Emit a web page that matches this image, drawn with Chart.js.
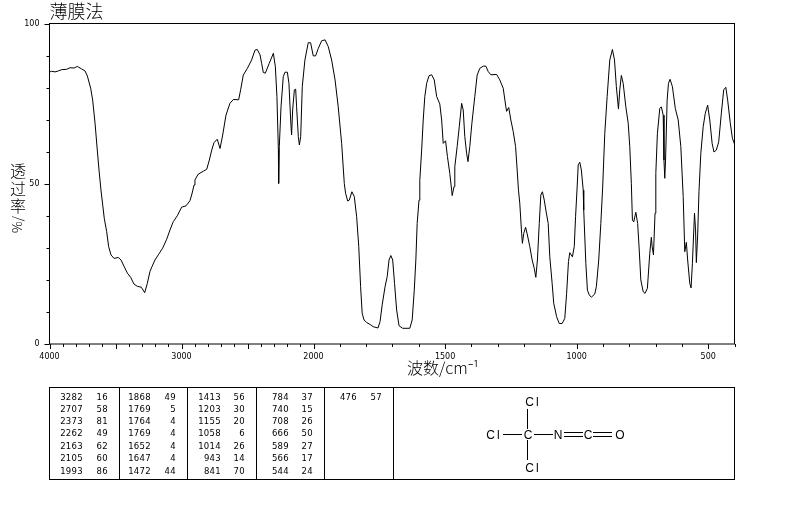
<!DOCTYPE html>
<html>
<head>
<meta charset="utf-8">
<title>薄膜法</title>
<script src="https://cdn.jsdelivr.net/npm/chart.js@4/dist/chart.umd.js"></script>
<style>
    html, body { margin: 0; padding: 0; background: #fff; }
    #wrap { position: relative; width: 794px; height: 510px; overflow: hidden; font-family: "DejaVu Sans", sans-serif; color: #000; }
    #irChart { position: absolute; left: 0; top: 0; }
    .cjk { position: absolute; font-family: "Noto Sans CJK SC", sans-serif; font-weight: 300; line-height: 1; white-space: nowrap; }
    #peakBox { position: absolute; left: 49px; top: 387px; width: 684px; height: 91px; border: 1px solid #000; }
    .rule { position: absolute; top: 0; width: 1px; height: 91px; background: #000; }
    .num { position: absolute; font-size: 8.5px; line-height: 12px; text-align: right; width: 30px; letter-spacing: 0.3px; }
    #mol { position: absolute; left: 394px; top: 388px; }
    #mol text { font-family: "Liberation Sans", sans-serif; font-size: 12px; text-anchor: middle; letter-spacing: 2px; }
</style>
</head>
<body>
<div id="wrap">
    <canvas id="irChart" width="794" height="510"></canvas>
    <div class="cjk" style="left:10px;top:162px;font-size:16px;width:16px;line-height:17.5px;">透<br>过<br>率</div>
    <div class="cjk" style="left:10px;top:233px;font-size:13px;transform-origin:0 0;transform:rotate(-90deg);">%/</div>
    <div class="cjk" style="left:407px;top:359px;font-size:16px;">波数/cm⁻¹</div>
    <div id="peakBox"></div>
    <svg id="mol" width="339" height="90" stroke="#000" fill="#000">
        <g stroke-width="1">
            <line x1="133.5" y1="21" x2="133.5" y2="41"/>
            <line x1="133.5" y1="52" x2="133.5" y2="72"/>
            <line x1="109" y1="46.5" x2="128" y2="46.5"/>
            <line x1="140" y1="46.5" x2="159" y2="46.5"/>
            <line x1="170" y1="44.5" x2="189" y2="44.5"/>
            <line x1="170" y1="48.5" x2="189" y2="48.5"/>
            <line x1="199" y1="44.5" x2="218" y2="44.5"/>
            <line x1="199" y1="48.5" x2="218" y2="48.5"/>
        </g>
        <g stroke="none">
            <text x="139" y="18">Cl</text>
            <text x="100" y="51">Cl</text>
            <text x="135" y="51">C</text>
            <text x="165" y="51">N</text>
            <text x="195" y="51">C</text>
            <text x="227" y="51">O</text>
            <text x="139" y="84">Cl</text>
        </g>
    </svg>
</div>
<script>
// Spectrum (cm-1 and %T), ten points a line
const wavenumbers = [
    3996, 3984, 3958, 3933, 3908, 3870, 3845, 3814, 3789, 3756,
    3731, 3713, 3688, 3673, 3655, 3638, 3625, 3610, 3597, 3585,
    3567, 3552, 3534, 3511, 3479, 3458, 3436, 3410, 3385, 3360,
    3335, 3304, 3279, 3259, 3239, 3224, 3201, 3176, 3143, 3112,
    3087, 3062, 3032, 2999, 2966, 2936, 2921, 2905, 2898, 2873,
    2835, 2809, 2789, 2771, 2754, 2729, 2708, 2688, 2663, 2633,
    2607, 2567, 2552, 2532, 2501, 2469, 2443, 2426, 2405, 2393,
    2380, 2365, 2335, 2304, 2289, 2277, 2266, 2264, 2259, 2246,
    2229, 2216, 2198, 2186, 2173, 2166, 2158, 2145, 2135, 2128,
    2115, 2107, 2097, 2085, 2065, 2040, 2022, 2002, 1992, 1982,
    1969, 1956, 1944, 1931, 1918, 1906, 1893, 1883, 1878, 1870,
    1864, 1854, 1845, 1836, 1828, 1821, 1815, 1808, 1798, 1783,
    1773, 1755, 1747, 1739, 1728, 1720, 1713, 1706, 1699, 1692,
    1684, 1675, 1661, 1634, 1625, 1617, 1611, 1606, 1599, 1596,
    1589, 1583, 1577, 1570, 1561, 1551, 1541, 1532, 1520, 1513,
    1507, 1498, 1491, 1482, 1475, 1473, 1466, 1463, 1454, 1446,
    1437, 1431, 1425, 1418, 1413, 1406, 1398, 1387, 1378, 1368,
    1355, 1345, 1336, 1326, 1304, 1292, 1279, 1269, 1266, 1258,
    1250, 1241, 1232, 1226, 1221, 1216, 1209, 1206, 1201, 1194,
    1187, 1178, 1169, 1161, 1155, 1149, 1142, 1136, 1130, 1123,
    1117, 1108, 1102, 1093, 1087, 1076, 1066, 1055, 1045, 1038,
    1031, 1026, 1016, 1009, 1004, 998, 994, 988, 982, 975,
    973, 965, 959, 952, 944, 931, 925, 916, 908, 901,
    893, 884, 874, 864, 856, 849, 841, 836, 830, 823,
    813, 804, 798, 792, 788, 783, 775, 768, 762, 756,
    747, 740, 731, 722, 716, 713, 708, 702, 699, 693,
    684, 678, 671, 668, 665, 662, 656, 651, 645, 636,
    625, 614, 604, 595, 589, 583, 578, 570, 565, 560,
    552, 548, 545, 540, 535, 528, 519, 511, 502, 494,
    485, 478, 469, 460, 450, 441, 433, 426, 416, 408,
    400
];
const transmittance = [
    84.9, 85.1, 84.9, 85.2, 85.6, 85.7, 86.2, 86.1, 86.6, 85.8,
    85.2, 83.6, 79.8, 76.1, 68.9, 60.5, 54.3, 48.0, 43.4, 39.2,
    35.1, 30.4, 27.8, 26.7, 27.0, 26.2, 24.3, 22.1, 20.8, 18.7,
    18.0, 17.7, 16.0, 18.9, 22.6, 24.1, 26.2, 27.8, 29.9, 32.7,
    35.6, 38.2, 40.0, 42.7, 43.1, 44.7, 46.8, 49.6, 51.2, 53.0,
    53.9, 54.5, 57.4, 60.5, 62.8, 63.9, 61.0, 65.2, 71.4, 75.1,
    76.3, 76.2, 79.3, 83.9, 86.0, 88.6, 91.7, 91.9, 90.2, 87.6,
    84.7, 84.5, 87.6, 90.7, 86.5, 77.2, 60.5, 50.1, 61.6, 74.0,
    83.4, 84.8, 84.8, 81.3, 69.9, 65.2, 73.0, 79.3, 79.5, 74.0,
    64.7, 62.1, 64.7, 80.3, 88.6, 94.0, 94.0, 89.9, 89.9, 92.2,
    94.6, 94.9, 92.8, 88.6, 82.4, 74.0, 62.6, 50.1, 47.0, 44.6,
    44.9, 47.5, 46.0, 39.7, 30.4, 17.9, 9.6, 7.5, 6.7, 6.0,
    5.4, 5.0, 7.0, 12.2, 17.9, 21.0, 26.2, 27.6, 26.2, 18.9,
    10.6, 5.7, 4.9, 4.9, 7.5, 16.8, 26.2, 37.6, 44.9, 51.0,
    60.5, 69.9, 77.2, 81.3, 83.7, 84.0, 82.4, 77.2, 74.9, 69.9,
    62.6, 63.4, 58.5, 53.2, 48.0, 46.3, 49.1, 55.3, 61.6, 67.8,
    75.1, 73.0, 64.7, 59.5, 56.9, 61.6, 68.9, 77.2, 83.9, 86.0,
    86.7, 86.7, 85.0, 84.0, 84.1, 82.4, 79.8, 74.0, 72.6, 73.8,
    69.9, 66.3, 61.6, 54.3, 48.0, 43.9, 34.5, 31.4, 34.5, 36.4,
    34.0, 30.4, 26.2, 23.6, 20.8, 26.2, 37.6, 46.5, 47.5, 44.9,
    41.8, 37.6, 27.2, 18.9, 12.7, 8.5, 6.4, 6.4, 8.0, 15.8,
    25.7, 28.5, 27.2, 30.4, 39.7, 49.0, 55.9, 56.7, 54.3, 48.0,
    41.8, 25.2, 16.8, 15.3, 14.6, 15.6, 17.9, 26.2, 37.6, 49.0,
    65.7, 77.2, 88.6, 91.9, 88.6, 80.3, 73.3, 79.3, 83.8, 81.3,
    74.0, 68.9, 61.6, 50.0, 38.7, 38.1, 41.1, 37.6, 29.3, 20.0,
    16.3, 15.8, 17.4, 28.3, 33.3, 30.4, 27.8, 40.8, 53.2, 65.7,
    73.5, 74.0, 71.4, 57.4, 51.7, 57.4, 76.1, 81.3, 82.6, 80.3,
    73.5, 69.9, 61.6, 46.0, 28.8, 31.7, 26.2, 18.9, 17.5, 25.2,
    40.8, 35.6, 25.4, 34.0, 47.5, 59.5, 67.8, 72.0, 74.5, 69.9,
    62.6, 59.9, 60.5, 63.1, 72.0, 79.3, 80.1, 76.1, 68.9, 64.2,
    62.4
];

// Axis ticks
const xLabelTicks = [4000, 3000, 2000, 1500, 1000, 500];
const xMajorTicks = [4000, 3500, 3000, 2500, 2000, 1500, 1000, 500];
const xMinorTicks = [
    3900, 3800, 3700, 3600, 3400, 3300, 3200, 3100, 2900, 2800, 2700, 2600, 2400, 2300, 2200, 2100,
    1900, 1800, 1700, 1600, 1400, 1300, 1200, 1100, 900, 800, 700, 600, 400
];
const yLabelTicks = [0, 50, 100];
const yMinorTicks = [10, 20, 30, 40, 60, 70, 80, 90];

// Peak table columns
const peakWave = [
    [3282, 2707, 2373, 2262, 2163, 2105, 1993],
    [1868, 1769, 1764, 1769, 1652, 1647, 1472],
    [1413, 1203, 1155, 1058, 1014, 943, 841],
    [784, 740, 708, 666, 589, 566, 544],
    [476]
];
const peakT = [
    [16, 58, 81, 49, 62, 60, 86],
    [49, 5, 4, 4, 4, 4, 44],
    [56, 30, 20, 6, 26, 14, 70],
    [37, 15, 26, 50, 27, 17, 24],
    [57]
];

// IR x axis: the scale doubles at 2000 cm-1
const AXIS_BREAK = 2000;
const BREAK_FRACTION = 264 / 685;

class IrWaveScale extends Chart.LinearScale {
    getPixelForValue(value) {
        let f;
        if (value >= AXIS_BREAK) {
            f = (this.max - value) / (this.max - AXIS_BREAK) * BREAK_FRACTION;
        } else {
            f = BREAK_FRACTION + (AXIS_BREAK - value) / (AXIS_BREAK - this.min) * (1 - BREAK_FRACTION);
        }
        return this.left + f * this.width;
    }
    getValueForPixel(pixel) {
        const f = (pixel - this.left) / this.width;
        if (f <= BREAK_FRACTION) {
            return this.max - f / BREAK_FRACTION * (this.max - AXIS_BREAK);
        }
        return AXIS_BREAK - (f - BREAK_FRACTION) / (1 - BREAK_FRACTION) * (AXIS_BREAK - this.min);
    }
}
IrWaveScale.id = 'irWave';
IrWaveScale.defaults = {};
Chart.register(IrWaveScale);

// Tick marks and frame
const frameTicks = {
    id: 'frameTicks',
    afterDraw(chart) {
        const { ctx, chartArea: a, scales: { x, y } } = chart;
        ctx.save();
        ctx.strokeStyle = '#000';
        ctx.lineWidth = 1;
        ctx.strokeRect(a.left, a.top, a.right - a.left, a.bottom - a.top);
        ctx.beginPath();
        xMinorTicks.forEach(v => {
            const px = Math.round(x.getPixelForValue(v)) + 0.5;
            ctx.moveTo(px, a.bottom);
            ctx.lineTo(px, a.bottom + 3);
        });
        xMajorTicks.forEach(v => {
            const px = Math.round(x.getPixelForValue(v)) + 0.5;
            ctx.moveTo(px, a.bottom);
            ctx.lineTo(px, a.bottom + 5);
        });
        yMinorTicks.forEach(v => {
            const py = Math.round(y.getPixelForValue(v)) + 0.5;
            ctx.moveTo(a.left, py);
            ctx.lineTo(a.left - 3, py);
        });
        yLabelTicks.forEach(v => {
            const py = Math.round(y.getPixelForValue(v)) + 0.5;
            ctx.moveTo(a.left, py);
            ctx.lineTo(a.left - 5, py);
        });
        ctx.stroke();
        ctx.restore();
    }
};

new Chart(document.getElementById('irChart'), {
    type: 'line',
    data: {
        datasets: [{
            data: wavenumbers.map((w, i) => ({ x: w, y: transmittance[i] })),
            borderColor: '#000',
            borderWidth: 1,
            pointRadius: 0,
            tension: 0,
            fill: false
        }]
    },
    options: {
        responsive: false,
        animation: false,
        devicePixelRatio: 1,
        layout: { padding: { right: 59.5 } },
        plugins: {
            legend: { display: false },
            tooltip: { enabled: false },
            title: {
                display: true,
                text: '薄膜法',
                align: 'start',
                fullSize: false,
                color: '#000',
                font: { family: '"Noto Sans CJK SC"', size: 18, weight: '300', lineHeight: 1 },
                padding: { top: 2, bottom: 3.5 }
            }
        },
        scales: {
            x: {
                type: 'irWave',
                min: 400,
                max: 4000,
                grid: { display: false, drawTicks: false },
                border: { display: false },
                afterBuildTicks: s => { s.ticks = xLabelTicks.map(v => ({ value: v })); },
                afterFit: s => { s.height = 166; },
                ticks: {
                    autoSkip: false,
                    maxRotation: 0,
                    padding: 8,
                    color: '#000',
                    font: { family: '"DejaVu Sans"', size: 8 },
                    callback: v => String(v)
                }
            },
            y: {
                min: 0,
                max: 100,
                grid: { display: false, drawTicks: false },
                border: { display: false },
                afterBuildTicks: s => { s.ticks = yLabelTicks.map(v => ({ value: v })); },
                afterFit: s => { s.width = 49.5; },
                ticks: {
                    padding: 10,
                    color: '#000',
                    font: { family: '"DejaVu Sans"', size: 8 }
                }
            }
        }
    },
    plugins: [frameTicks]
});

// Peak table
const box = document.getElementById('peakBox');
const rowTop = [3, 15, 27, 39, 52, 64, 77];
const waveRight = [33, 101, 171, 239, 307];
const tRight = [58, 126, 195, 263, 332];
[69, 137, 206, 274, 343].forEach(left => {
    const r = document.createElement('div');
    r.className = 'rule';
    r.style.left = left + 'px';
    box.appendChild(r);
});
function addNum(text, right, top) {
    const n = document.createElement('div');
    n.className = 'num';
    n.textContent = text;
    n.style.left = (right - 30) + 'px';
    n.style.top = top + 'px';
    box.appendChild(n);
}
peakWave.forEach((col, c) => {
    col.forEach((w, r) => {
        addNum(w, waveRight[c], rowTop[r]);
        addNum(peakT[c][r], tRight[c], rowTop[r]);
    });
});
</script>
</body>
</html>
